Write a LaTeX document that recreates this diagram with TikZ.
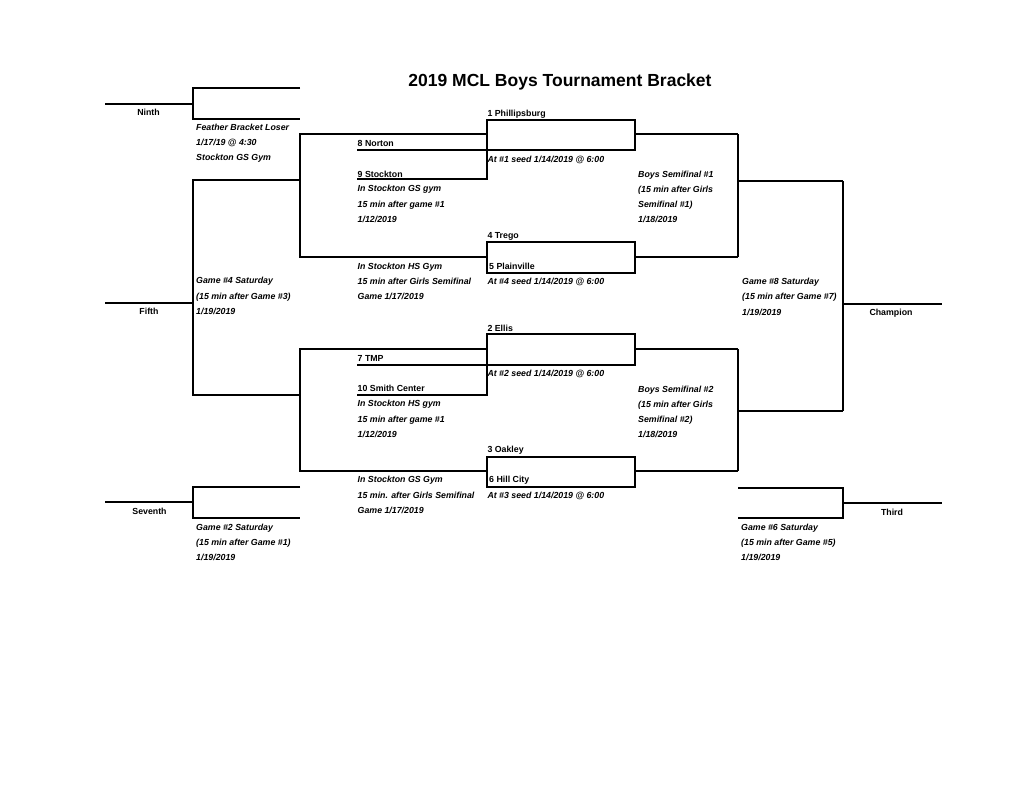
\documentclass[tikz,border=0pt]{standalone}
\usepackage{fontspec}
\setmainfont{Liberation Sans}
\begin{document}
\begin{tikzpicture}[x=1pt,y=-1pt,
  br/.style={line width=1.2pt,line join=miter},
  lab/.style={anchor=base west,inner sep=0pt,font=\fontsize{8.8}{10}\selectfont\bfseries\itshape},
  team/.style={anchor=base west,inner sep=0pt,font=\fontsize{8.8}{10}\selectfont\bfseries},
  place/.style={anchor=base,inner sep=0pt,font=\fontsize{8.8}{10}\selectfont\bfseries},
  ttl/.style={anchor=base,inner sep=0pt,font=\fontsize{17.5}{20}\selectfont\bfseries}]
\useasboundingbox (0,0) rectangle (1024,792);
\fill[white] (0,0) rectangle (1024,792);

% title
\node[ttl] (title) at (560,86.5) {2019 MCL Boys Tournament Bracket};

% ---- consolation (left) ----
\draw[br] (105,104) -- (193,104);
\draw[br] (300,88) -- (193,88) -- (193,119) -- (300,119);
\draw[br] (105,303) -- (193,303);
\draw[br] (300,180) -- (193,180) -- (193,395) -- (300,395);
\draw[br] (105,502) -- (193,502);
\draw[br] (300,487) -- (193,487) -- (193,518) -- (300,518);

% ---- top quarter ----
\draw[br] (487,134) -- (300,134) -- (300,257) -- (487,257);
\draw[br] (357,179) -- (487,179) -- (487,120) -- (635,120) -- (635,150) -- (357,150);
\draw[br] (635,134) -- (738,134);
\draw[br] (487,242) rectangle (635,273);
\draw[br] (635,257) -- (738,257);
\draw[br] (738,134) -- (738,257);
\draw[br] (738,181) -- (843,181);

% ---- bottom quarter ----
\draw[br] (487,349) -- (300,349) -- (300,471) -- (487,471);
\draw[br] (357,395) -- (487,395) -- (487,334) -- (635,334) -- (635,365) -- (357,365);
\draw[br] (635,349) -- (738,349);
\draw[br] (487,457) rectangle (635,487);
\draw[br] (635,471) -- (738,471);
\draw[br] (738,349) -- (738,471);
\draw[br] (738,411) -- (843,411);

% ---- final & third ----
\draw[br] (843,181) -- (843,411);
\draw[br] (843,304) -- (942,304);
\draw[br] (738,488) -- (843,488) -- (843,518) -- (738,518);
\draw[br] (843,503) -- (942,503);

% ---- place labels ----
\node[place] (ninth) at (148.5,115) {Ninth};
\node[place] (fifth) at (149,314) {Fifth};
\node[place] (seventh) at (149.5,514) {Seventh};
\node[place] (champ) at (891,315) {Champion};
\node[place] (third) at (892,515) {Third};

% ---- left column ----
\node[lab] (f1) at (196,130.7) {Feather Bracket Loser};
\node[lab] (f2) at (196,145.7) {1/17/19 @ 4:30};
\node[lab] (f3) at (196,160.7) {Stockton GS Gym};
\node[lab] (g4a) at (196,283.3) {Game \#4 Saturday};
\node[lab] (g4b) at (196,299) {(15 min after Game \#3)};
\node[lab] (g4c) at (196,314) {1/19/2019};
\node[lab] (g2a) at (196,530) {Game \#2 Saturday};
\node[lab] (g2b) at (196,545.5) {(15 min after Game \#1)};
\node[lab] (g2c) at (196,560.7) {1/19/2019};

% ---- first-round column ----
\node[team] (t8) at (357.5,146) {8 Norton};
\node[team] (t9) at (357.5,177) {9 Stockton};
\node[lab] (g1a) at (357.5,191.5) {In Stockton GS gym};
\node[lab] (g1b) at (357.5,207) {15 min after game \#1};
\node[lab] (g1c) at (357.5,222) {1/12/2019};
\node[lab] (g3a) at (357.5,269.5) {In Stockton HS Gym};
\node[lab] (g3b) at (357.5,284.5) {15 min after Girls Semifinal};
\node[lab] (g3c) at (357.5,299.5) {Game 1/17/2019};
\node[team] (t7) at (357.5,361) {7 TMP};
\node[team] (t10) at (357.5,391.5) {10 Smith Center};
\node[lab] (h1a) at (357.5,406.7) {In Stockton HS gym};
\node[lab] (h1b) at (357.5,422) {15 min after game \#1};
\node[lab] (h1c) at (357.5,437) {1/12/2019};
\node[lab] (h3a) at (357.5,482.7) {In Stockton GS Gym};
\node[lab] (h3b) at (357.5,498) {15 min. after Girls Semifinal};
\node[lab] (h3c) at (357.5,513.7) {Game 1/17/2019};

% ---- quarterfinal column ----
\node[team] (t1) at (487.3,116) {1 Phillipsburg};
\node[lab] (q1) at (487.3,162) {At \#1 seed 1/14/2019 @ 6:00};
\node[team] (t4) at (487.3,238) {4 Trego};
\node[team] (t5) at (489,269.5) {5 Plainville};
\node[lab] (q4) at (487.3,284.5) {At \#4 seed 1/14/2019 @ 6:00};
\node[team] (t2) at (487.3,331) {2 Ellis};
\node[lab] (q2) at (487.3,376.7) {At \#2 seed 1/14/2019 @ 6:00};
\node[team] (t3) at (487.3,452.7) {3 Oakley};
\node[team] (t6) at (489,482.7) {6 Hill City};
\node[lab] (q3) at (487.3,498) {At \#3 seed 1/14/2019 @ 6:00};

% ---- semifinal column ----
\node[lab] (s1a) at (638,177) {Boys Semifinal \#1};
\node[lab] (s1b) at (638,192) {(15 min after Girls};
\node[lab] (s1c) at (638,207) {Semifinal \#1)};
\node[lab] (s1d) at (638,222) {1/18/2019};
\node[lab] (s2a) at (638,392.7) {Boys Semifinal \#2};
\node[lab] (s2b) at (638,407.7) {(15 min after Girls};
\node[lab] (s2c) at (638,422.7) {Semifinal \#2)};
\node[lab] (s2d) at (638,437.7) {1/18/2019};

% ---- final column ----
\node[lab] (g8a) at (742,284.3) {Game \#8 Saturday};
\node[lab] (g8b) at (742,299.3) {(15 min after Game \#7)};
\node[lab] (g8c) at (742,315) {1/19/2019};
\node[lab] (g6a) at (741,530) {Game \#6 Saturday};
\node[lab] (g6b) at (741,545) {(15 min after Game \#5)};
\node[lab] (g6c) at (741,560) {1/19/2019};
\end{tikzpicture}
\end{document}
